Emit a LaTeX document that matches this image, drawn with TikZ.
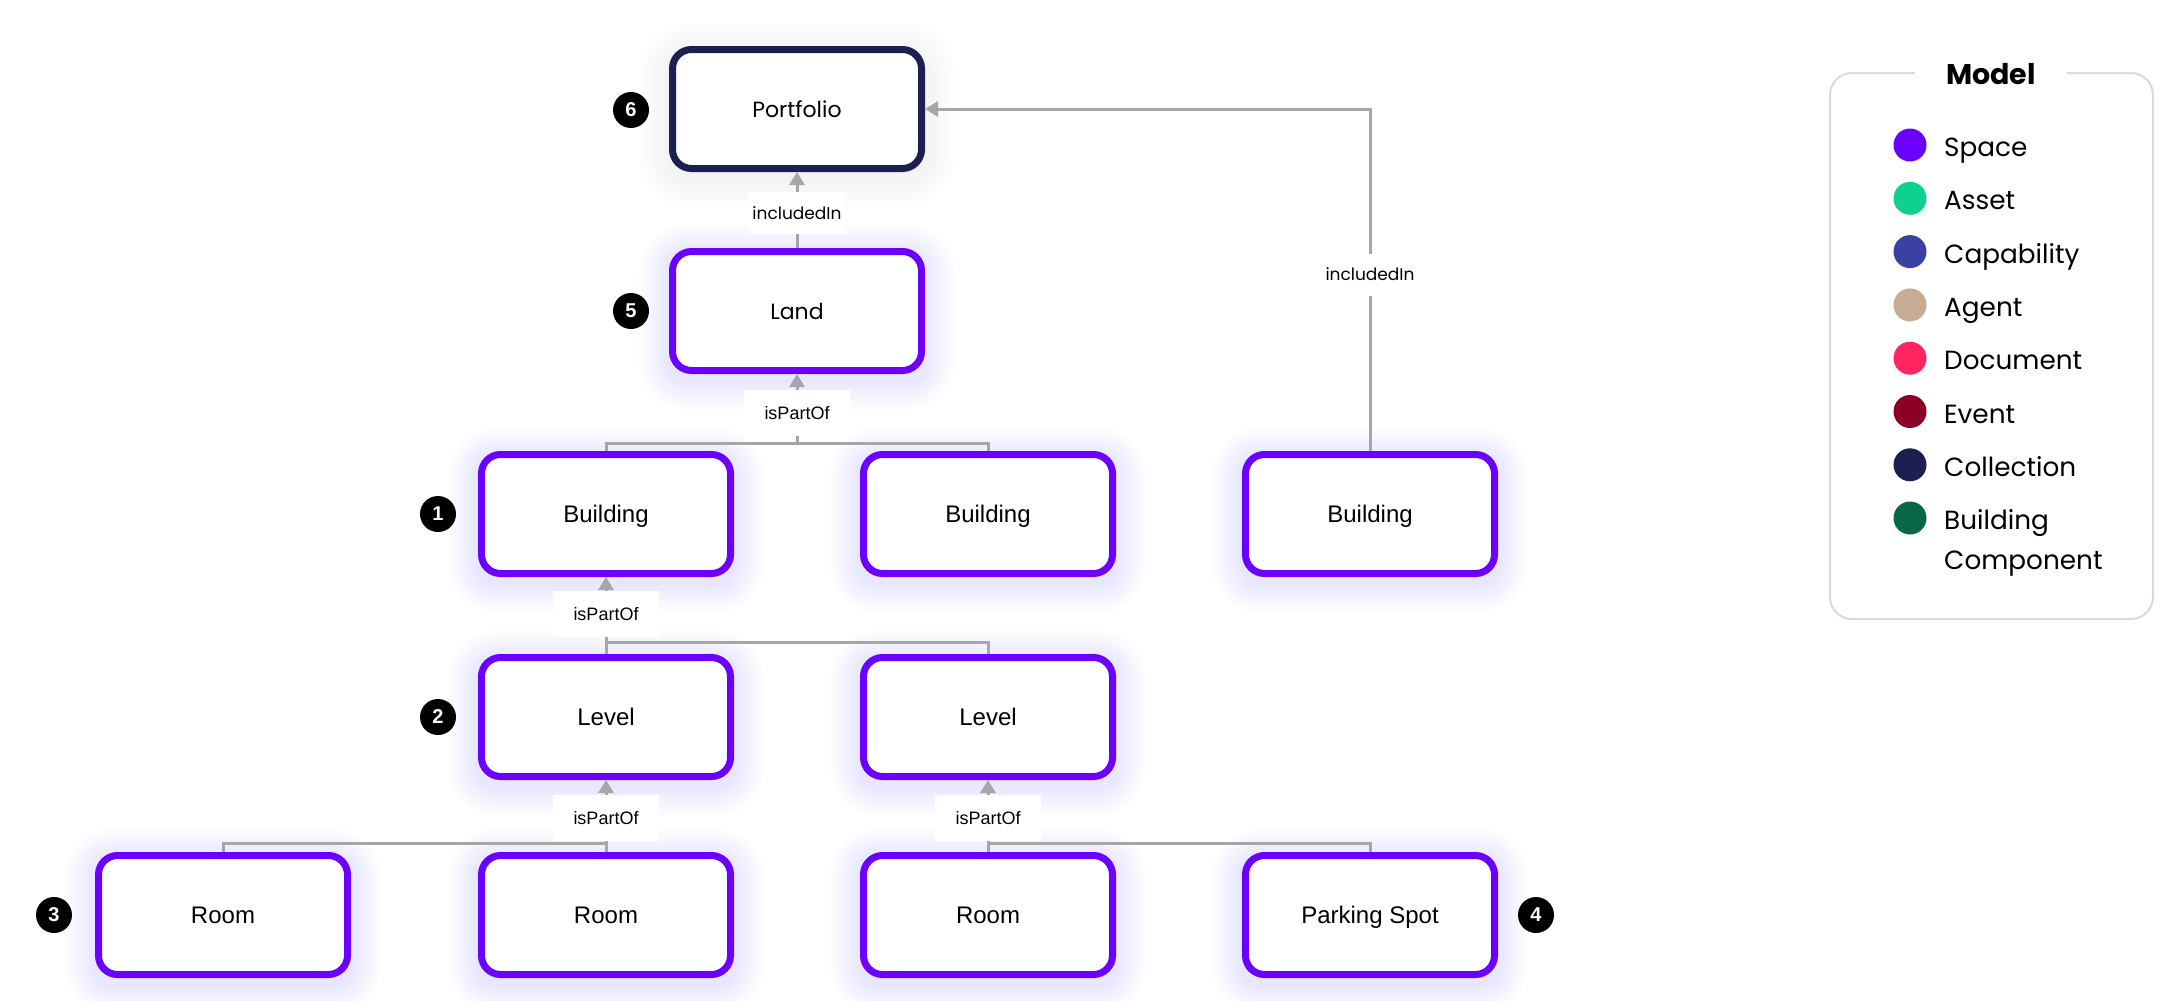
\documentclass[tikz,border=0pt]{standalone}
\usepackage{fontspec}
\setmainfont{Liberation Sans}
\newfontfamily\geo{Poppins}
\usetikzlibrary{arrows.meta,calc,backgrounds}
\definecolor{spacec}{HTML}{6B00FF}
\definecolor{assetc}{HTML}{0FD18E}
\definecolor{capc}{HTML}{3A41A0}
\definecolor{agentc}{HTML}{C9AA92}
\definecolor{docc}{HTML}{FF2660}
\definecolor{eventc}{HTML}{8C0026}
\definecolor{collc}{HTML}{1C1F50}
\definecolor{bcompc}{HTML}{0A6648}
\definecolor{linec}{HTML}{A6A6A6}
\definecolor{legline}{HTML}{DADADA}
\tikzset{
  box/.style={draw=spacec, line width=7pt, rounded corners=19pt, fill=white,
    minimum width=249pt, minimum height=119pt, inner sep=0pt,
    text height=17pt, text depth=0pt,
    font=\fontsize{24}{28}\selectfont},
  collbox/.style={box, draw=collc},
  geobox/.style={font=\geo\fontsize{22}{26}\selectfont, text height=16pt},
  badge/.style={circle, fill=black, minimum size=36pt, inner sep=0pt, text=white,
    font=\fontsize{20}{24}\selectfont\bfseries},
  conn/.style={draw=linec, line width=3pt},
  arr/.style={conn, -{Triangle[width=15pt,length=13pt]}},
  lbl/.style={fill=white, minimum width=106pt, minimum height=46pt, inner sep=0pt,
    text=black, font=\fontsize{18}{20}\selectfont},
  geolbl/.style={lbl, minimum width=96pt, minimum height=42pt, font=\geo\fontsize{17}{20}\selectfont},
  legdot/.style={circle, minimum size=33pt, inner sep=0pt},
  legtxt/.style={anchor=base west, inner sep=0pt,
    font=\geo\fontsize{26.3}{30}\selectfont},
}
\newcommand\glow[3]{%
  \begin{scope}[on background layer]
  \foreach \k in {1,...,12}{
    \fill[#2, opacity=#3, rounded corners={19pt+\k*2.5pt}]
      ($(#1.south west)+(-\k*2.5pt,-\k*2.5pt-6pt)$) rectangle
      ($(#1.north east)+(\k*2.5pt,\k*2.5pt-6pt)$);
  }
  \end{scope}}
\begin{document}
\begin{tikzpicture}[x=1pt,y=-1pt]
\useasboundingbox (0,0) rectangle (2168,1001);
\begin{scope}[on background layer]
\fill[white] (0,0) rectangle (2168,1001);
\end{scope}

% boxes
\node[collbox, geobox] (port) at (797,109) {Portfolio};
\node[box, geobox] (land) at (797,311) {Land};
\node[box] (b1) at (606,514) {Building};
\node[box] (b2) at (988,514) {Building};
\node[box] (b3) at (1370,514) {Building};
\node[box] (l1) at (606,717) {Level};
\node[box] (l2) at (988,717) {Level};
\node[box] (r1) at (223,915) {Room};
\node[box] (r2) at (606,915) {Room};
\node[box] (r3) at (988,915) {Room};
\node[box] (ps) at (1370,915) {Parking Spot};

\glow{port}{collc}{0.005}
\foreach \n in {land,b1,b2,b3,l1,l2,r1,r2,r3,ps}{\glow{\n}{spacec}{0.008}}

% badges
\node[badge] (n6) at (631,110) {6};
\node[badge] (n5) at (631,311) {5};
\node[badge] (n1) at (438,514) {1};
\node[badge] (n2) at (438,717) {2};
\node[badge] (n3) at (54,915) {3};
\node[badge] (n4) at (1536,915) {4};

% connectors
\draw[arr] (land.north) -- node[geolbl, pos=0.46]{includedIn} (port.south);
\draw[arr] (b3.north) |- node[geolbl, pos=0.258]{includedIn} (port.east);

\coordinate (bb) at (797,443);
\draw[conn] (b1.north) |- (bb) -| (b2.north);
\draw[arr] (bb) -- node[lbl, pos=0.44]{isPartOf} (land.south);

\coordinate (lb) at (606,642);
\draw[conn] (l1.north) -- (lb) -| (l2.north);
\draw[arr] (lb) -- node[lbl, pos=0.43]{isPartOf} (b1.south);

\coordinate (rb1) at (606,843);
\draw[conn] (r1.north) |- (rb1) -- (r2.north);
\draw[arr] (rb1) -- node[lbl, pos=0.4]{isPartOf} (l1.south);

\coordinate (rb2) at (988,843);
\draw[conn] (r3.north) -- (rb2) -| (ps.north);
\draw[arr] (rb2) -- node[lbl, pos=0.4]{isPartOf} (l2.south);

% legend
\draw[legline, line width=2pt, rounded corners=22pt] (1830,73) rectangle (2153,619);
\node[fill=white, minimum width=152pt, minimum height=30pt, inner sep=0pt,
  text height=21pt, text depth=0pt,
  font=\geo\bfseries\fontsize{28.5}{30}\selectfont] (mt) at (1991,74) {Model};
\foreach \c/\t/\y [count=\i] in {spacec/Space/145, assetc/Asset/198.3, capc/Capability/251.6,
  agentc/Agent/304.9, docc/Document/358.2, eventc/Event/411.5, collc/Collection/464.8,
  bcompc/Building/518}{
  \node[legdot, fill=\c] (d\i) at (1910,\y) {};
  \node[legtxt] (t\i) at (1944,\y+11.5) {\t};
}
\node[legtxt] (t9) at (1944,569) {Component};
\end{tikzpicture}
\end{document}
